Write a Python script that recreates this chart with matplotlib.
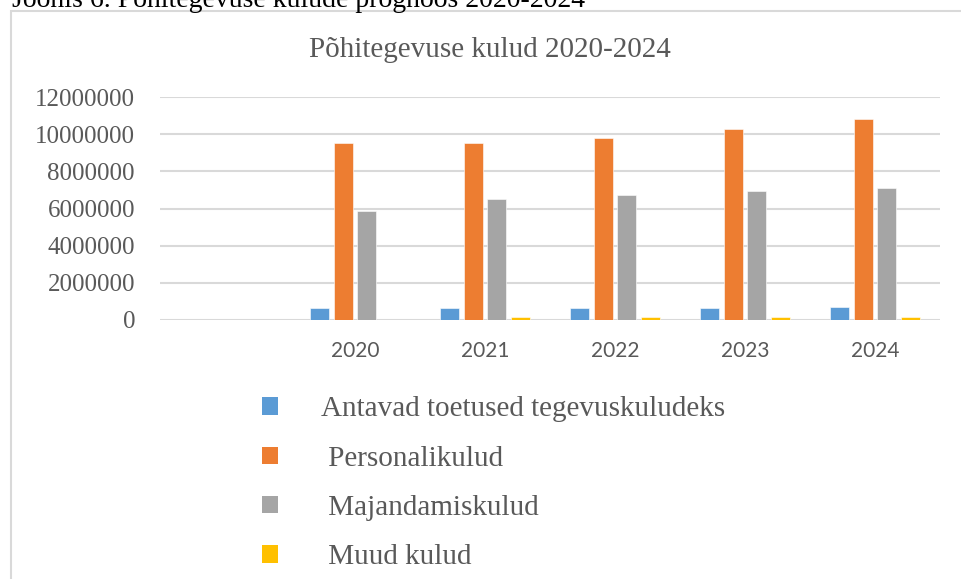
import matplotlib.pyplot as plt
import numpy as np
from matplotlib.patches import Rectangle, Patch

# andmed (esimene kategooria on tühi)
aastad = ["", "2020", "2021", "2022", "2023", "2024"]
seeriad = ["Antavad toetused tegevuskuludeks", " Personalikulud", " Majandamiskulud", " Muud kulud"]
toetused = [0, 620000, 630000, 650000, 670000, 700000]
personal = [0, 9520000, 9520000, 9820000, 10280000, 10800000]
majandamine = [0, 5850000, 6530000, 6710000, 6930000, 7130000]
muud = [0, 0, 140000, 140000, 140000, 140000]
y_ticks = [0, 2000000, 4000000, 6000000, 8000000, 10000000, 12000000]

varvid = ["#5B9BD5", "#ED7D31", "#A5A5A5", "#FFC000"]
hall_tekst = "#595959"
serif = ["Liberation Serif", "DejaVu Serif"]

fig = plt.figure(figsize=(9.62, 5.79), dpi=100)
W, H = 962, 579

# raam ümber diagrammi
fig.patches.append(Rectangle((11 / W, -0.05), 1.1, 1 - 11 / H + 0.05, transform=fig.transFigure,
                             fill=False, edgecolor="#D9D9D9", linewidth=1.5, clip_on=False))

fig.text(12 / W, 1 - 7 / H, "Joonis 6. Põhitegevuse kulude prognoos 2020-2024",
         fontsize=20, family=serif, color="black", va="baseline", ha="left")

ax = fig.add_axes([160 / W, 1 - 320 / H, 780 / W, (320 - 97) / H])

x = np.arange(len(aastad))
samm = 0.18
laius = 0.146
andmed = [toetused, personal, majandamine, muud]
for i, (nimi, vals) in enumerate(zip(seeriad, andmed)):
    ax.bar(x + (i - 1.5) * samm, vals, width=laius, color=varvid[i],
           edgecolor="white", linewidth=0.4, label=nimi, zorder=3)

ax.set_xlim(-0.5, len(aastad) - 0.5)
ax.set_ylim(0, 12000000)
ax.set_yticks(y_ticks)
ax.set_yticklabels([str(v) for v in y_ticks], family=serif, fontsize=18, color=hall_tekst)
ax.set_xticks(x)
ax.set_xticklabels(aastad, family=["Lato", "DejaVu Sans"], fontsize=15, color=hall_tekst)
ax.tick_params(axis="both", length=0)
ax.tick_params(axis="y", pad=18)
ax.tick_params(axis="x", pad=15)
ax.yaxis.grid(True, color="#D9D9D9", linewidth=1.5, zorder=0)
ax.set_axisbelow(True)
for s in ax.spines.values():
    s.set_visible(False)

fig.text(490 / W, 1 - 57 / H, "Põhitegevuse kulud 2020-2024", fontsize=21, family=serif,
         color=hall_tekst, ha="center", va="baseline")

kastid = [Patch(facecolor=c, edgecolor="none") for c in varvid]
leg = fig.legend(kastid, seeriad, loc="upper left", bbox_to_anchor=(236 / W, 1 - 370 / H),
                 frameon=False, handlelength=0.53, handleheight=0.53, handletextpad=1.5,
                 labelspacing=0.8, prop={"family": serif, "size": 21})
for t in leg.get_texts():
    t.set_color(hall_tekst)

fig.savefig("out.png", dpi=100)
